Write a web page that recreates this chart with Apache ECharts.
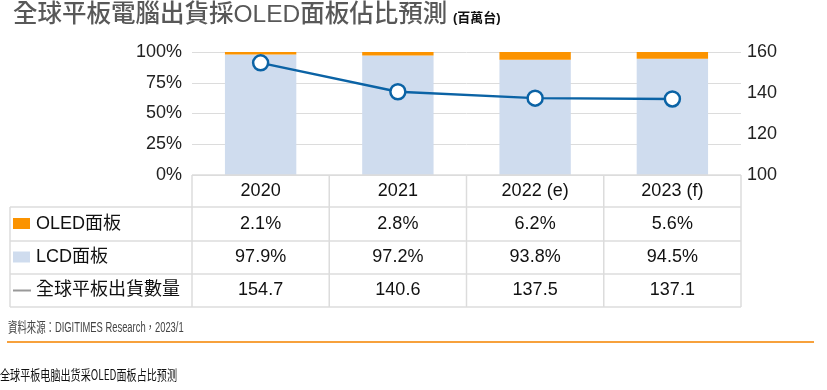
<!DOCTYPE html>
<html><head><meta charset="utf-8">
<script src="https://cdn.jsdelivr.net/npm/echarts@6/dist/echarts.min.js"></script>
<style>html,body{margin:0;padding:0;background:#fff}#c{width:827px;height:390px}</style>
</head><body><div id="c"></div>
<script>
const categories = ['2020', '2021', '2022 (e)', '2023 (f)'];
const oledShare = [2.1, 2.8, 6.2, 5.6];
const lcdShare = [97.9, 97.2, 93.8, 94.5];
const shipments = [154.7, 140.6, 137.5, 137.1];
const leftTicks = ['0%', '25%', '50%', '75%', '100%'];
const rightTicks = ['100', '120', '140', '160'];
const rowNames = ['OLED面板', 'LCD面板', '全球平板出貨數量'];
const titleText = '全球平板電腦出貨採OLED面板佔比預測';
const unitText = '(百萬台)';
const sourceText = '資料來源：DIGITIMES Research，2023/1';
const captionText = '全球平板电脑出货采OLED面板占比预测';

const C_OLED = '#fb9300', C_LCD = '#cfdcee', C_LINE = '#0b63a5', C_GRID = '#dcdcdc';
const FONT = '"Liberation Sans", Arial, "Noto Sans CJK TC", sans-serif';
const CJK = '"Liberation Sans", "Noto Sans CJK TC", sans-serif';

const chart = echarts.init(document.getElementById('c'), null, {renderer: 'canvas'});
const gridL = 192, gridR = 86, gridT = 52, gridB = 215;
const rowLines = [175, 207, 241, 274, 307];

chart.setOption({
  animation: false,
  grid: {left: gridL, right: gridR, top: gridT, bottom: gridB},
  xAxis: {
    type: 'category', data: categories,
    axisLine: {show: false}, axisTick: {show: false},
    axisLabel: {
      margin: 0, color: '#111', fontSize: 18, fontFamily: FONT, lineHeight: 33,
      formatter: (v, i) => [v, oledShare[i].toFixed(1) + '%', lcdShare[i].toFixed(1) + '%', shipments[i].toFixed(1)].join('\n')
    }
  },
  yAxis: [
    {type: 'value', min: 0, max: 100, interval: 25,
     axisLabel: {margin: 10, color: '#222', fontSize: 18, fontFamily: FONT, formatter: v => leftTicks[v / 25]},
     splitLine: {lineStyle: {color: C_GRID, width: 1}}, axisLine: {show: false}, axisTick: {show: false}},
    {type: 'value', min: 100, max: 160, interval: 20,
     axisLabel: {margin: 6, color: '#222', fontSize: 18, fontFamily: FONT, formatter: v => rightTicks[(v - 100) / 20]},
     splitLine: {show: false}, axisLine: {show: false}, axisTick: {show: false}}
  ],
  series: [
    {name: 'LCD面板', type: 'bar', stack: 's', data: lcdShare, barWidth: '52%', itemStyle: {color: C_LCD}},
    {name: 'OLED面板', type: 'bar', stack: 's', data: oledShare, barWidth: '52%', itemStyle: {color: C_OLED}},
    {name: '全球平板出貨數量', type: 'line', yAxisIndex: 1, data: shipments, z: 5,
     symbol: 'circle', symbolSize: 15, lineStyle: {color: C_LINE, width: 2.5},
     itemStyle: {color: '#fff', borderColor: C_LINE, borderWidth: 2.5}}
  ]
});

// table borders & legend column
const c0 = chart.convertToPixel({xAxisIndex: 0}, 0);
const c1 = chart.convertToPixel({xAxisIndex: 0}, 1);
const band = c1 - c0;
const bounds = categories.map((_, i) => c0 - band / 2 + i * band).concat([c0 - band / 2 + categories.length * band]);
const tableLeft = 10;
const g = [];
const lineStyle = {stroke: C_GRID, lineWidth: 1.5};
rowLines.forEach((y, i) => {
  g.push({type: 'line', shape: {x1: i === 0 ? bounds[0] : tableLeft, y1: y, x2: bounds[bounds.length - 1], y2: y}, style: lineStyle, z: 10});
});
bounds.forEach(x => g.push({type: 'line', shape: {x1: x, y1: rowLines[0], x2: x, y2: rowLines[4]}, style: lineStyle, z: 10}));
g.push({type: 'line', shape: {x1: tableLeft, y1: rowLines[1], x2: tableLeft, y2: rowLines[4]}, style: lineStyle, z: 10});

const rowCenters = [1, 2, 3].map(i => (rowLines[i] + rowLines[i + 1]) / 2);
g.push({type: 'rect', shape: {x: 13, y: rowCenters[0] - 6, width: 17, height: 11}, style: {fill: C_OLED}});
g.push({type: 'rect', shape: {x: 13, y: rowCenters[1] - 6, width: 17, height: 11}, style: {fill: C_LCD}});
g.push({type: 'line', shape: {x1: 13, y1: rowCenters[2], x2: 31, y2: rowCenters[2]}, style: {stroke: '#999', lineWidth: 2}});
rowNames.forEach((n, i) => g.push({type: 'text', x: 36, y: rowCenters[i],
  style: {text: n, fill: '#111', font: '18px ' + CJK, textVerticalAlign: 'middle'}}));

// title, unit, source, rule, caption
g.push({type: 'text', x: 13, y: 15, style: {text: titleText, fill: '#585858', font: '500 24.5px ' + CJK, textVerticalAlign: 'middle'}});
g.push({type: 'text', x: 453, y: 18, style: {text: unitText, fill: '#111', font: 'bold 13px ' + CJK, textVerticalAlign: 'middle'}});
g.push({type: 'text', x: 8, y: 328, scaleX: 0.67, style: {text: sourceText, fill: '#444', font: '14px ' + CJK, textVerticalAlign: 'middle'}});
g.push({type: 'line', shape: {x1: 7, y1: 342, x2: 814, y2: 342}, style: {stroke: '#f7a13c', lineWidth: 2}});
g.push({type: 'text', x: 0, y: 375, scaleX: 0.72, style: {text: captionText, fill: '#111', font: '14px "Noto Sans CJK SC", sans-serif', textVerticalAlign: 'middle'}});

chart.setOption({graphic: {elements: g}});
</script></body></html>
